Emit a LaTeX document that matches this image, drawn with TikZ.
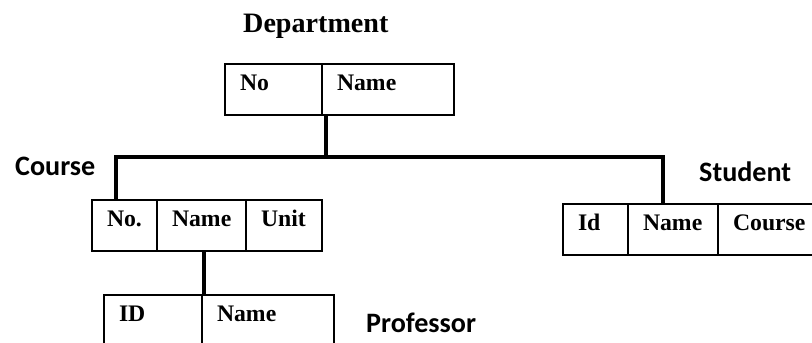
\documentclass[tikz,border=0pt]{standalone}
\usepackage{fontspec}
\setmainfont{Liberation Serif}
\newfontfamily\labelfont{Carlito}
\usetikzlibrary{positioning}
\tikzset{
    cell/.style={draw, line width=0.95pt, outer sep=0pt, inner xsep=3mm, inner ysep=0pt, text height=5.4mm, text depth=4.8mm, text width=#1, align=left, font=\fontsize{13.5}{16}\selectfont\bfseries},
    tbl_title/.style={anchor=base west, font=\labelfont\fontsize{16}{19}\selectfont\bfseries},
    link/.style={draw, line width=1.9pt, line join=miter}
}
\begin{document}
\begin{tikzpicture}[x=0.2mm, y=-0.2mm]
\useasboundingbox (0,0) rectangle (812,343);

% Department
\node[anchor=base west, font=\fontsize{16}{19}\selectfont\bfseries] (dept-title) at (237,33) {Department};
\node[cell=13.4mm, anchor=north west] (dept-no) at (225,64) {No};
\node[cell=20.4mm, right=0pt of dept-no] (dept-name) {Name};

% Course
\node[tbl_title] (course-title) at (9,176) {Course};
\node[cell=7mm, anchor=north west] (course-no) at (92,200) {No.};
\node[cell=11.8mm, right=0pt of course-no] (course-name) {Name};
\node[cell=9.2mm, right=0pt of course-name] (course-unit) {Unit};

% Student
\node[tbl_title] (stud-title) at (693,182) {Student};
\node[cell=7mm, anchor=north west] (stud-id) at (563,204) {Id};
\node[cell=12mm, right=0pt of stud-id] (stud-name) {Name};
\node[cell=14mm, right=0pt of stud-name] (stud-course) {Course};

% Professor
\node[tbl_title] (prof-title) at (360,333) {Professor};
\node[cell=13.6mm, anchor=north west] (prof-id) at (104,295) {ID};
\node[cell=20.4mm, right=0pt of prof-id] (prof-name) {Name};

% links
\draw[link] ([xshift=0.8mm]dept-name.south west) -- ++(0,-8.4mm) coordinate (bus);
\draw[link] ([xshift=4.8mm]course-no.north west) |- (bus) -| ([xshift=7mm]stud-name.north west);
\draw[link] ([xshift=0.4mm]prof-name.north west) -- ([xshift=0.4mm]prof-name.north west |- course-name.south);
\end{tikzpicture}
\end{document}
